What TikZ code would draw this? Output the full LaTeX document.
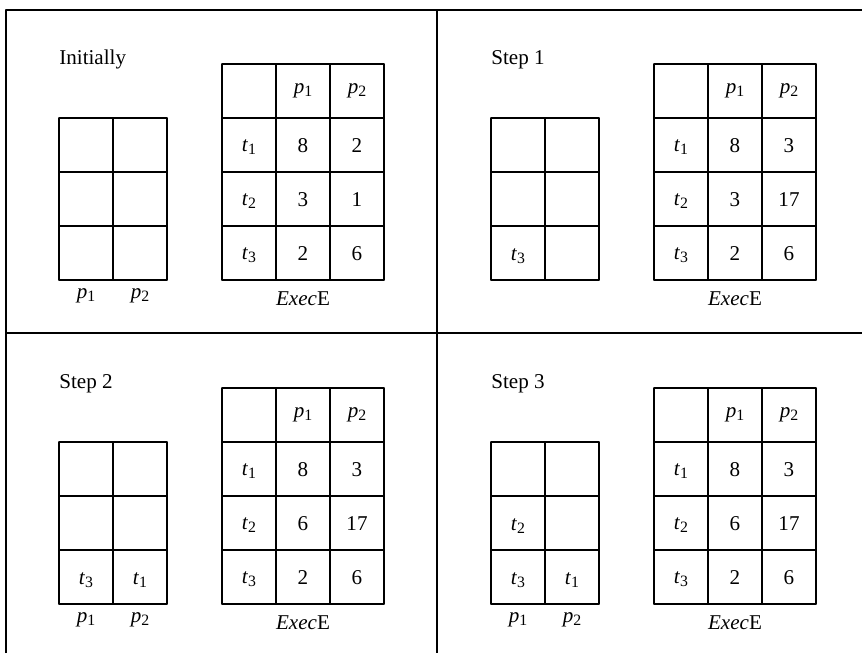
\documentclass[tikz,border=0pt]{standalone}
\usepackage{fontspec}
\setmainfont{Liberation Serif}
\newcommand{\ix}[2]{\textit{#1}\raisebox{-2pt}{\fontsize{9}{10}\selectfont #2}}

\begin{document}
\begin{tikzpicture}[x=0.02cm,y=-0.02cm,line join=round,line cap=round,
  every node/.style={font=\fontsize{12}{14}\selectfont,inner sep=0pt},
  cell/.style={anchor=base}]
\useasboundingbox (0,0) rectangle (862,653);
% frame
\draw[line width=.6pt,line cap=butt] (6,653) -- (6,10) -- (862,10);
\draw[line width=.6pt,line cap=butt] (437,10) -- (437,653);
\draw[line width=.6pt,line cap=butt] (6,333) -- (862,333);
% both grids of one panel
\def\panelgrid{%
  \foreach \i in {0,...,3} \draw[line width=.6pt] (59,118+54*\i) -- (167,118+54*\i);
  \foreach \i in {0,...,2} \draw[line width=.6pt] (59+54*\i,118) -- (59+54*\i,280);
  \foreach \i in {0,...,4} \draw[line width=.6pt] (222,64+54*\i) -- (384,64+54*\i);
  \foreach \i in {0,...,3} \draw[line width=.6pt] (222+54*\i,64) -- (222+54*\i,280);
  \node[cell] (h1) at (303,93) {\ix{p}{1}};
  \node[cell] (h2) at (357,93) {\ix{p}{2}};
  \foreach \r in {1,2,3} \node[cell] (t\r) at (249,64+54*\r+33) {\ix{t}{\r}};
  \node[cell] (exec) at (303,305) {\textit{Exec}E};
}
\def\proclabels{%
  \node[cell] (lp1) at (86,298) {\ix{p}{1}};
  \node[cell] (lp2) at (140,298) {\ix{p}{2}};
}

\begin{scope}[name prefix=a-]
\panelgrid \proclabels
\node[anchor=base west] (title) at (59,64) {Initially};
\foreach \r/\u/\v in {1/8/2,2/3/1,3/2/6}{
  \node[cell] (e\r1) at (303,64+54*\r+34) {\u};
  \node[cell] (e\r2) at (357,64+54*\r+34) {\v};
}
\end{scope}

\begin{scope}[shift={(432,0)},name prefix=b-]
\panelgrid
\node[anchor=base west] (title) at (59,64) {Step 1};
\foreach \r/\u/\v in {1/8/3,2/3/17,3/2/6}{
  \node[cell] (e\r1) at (303,64+54*\r+34) {\u};
  \node[cell] (e\r2) at (357,64+54*\r+34) {\v};
}
\node[cell] (g31) at (86,260) {\ix{t}{3}};
\end{scope}

\begin{scope}[shift={(0,324)},name prefix=c-]
\panelgrid \proclabels
\node[anchor=base west] (title) at (59,64) {Step 2};
\foreach \r/\u/\v in {1/8/3,2/6/17,3/2/6}{
  \node[cell] (e\r1) at (303,64+54*\r+34) {\u};
  \node[cell] (e\r2) at (357,64+54*\r+34) {\v};
}
\node[cell] (g31) at (86,260) {\ix{t}{3}};
\node[cell] (g32) at (140,260) {\ix{t}{1}};
\end{scope}

\begin{scope}[shift={(432,324)},name prefix=d-]
\panelgrid \proclabels
\node[anchor=base west] (title) at (59,64) {Step 3};
\foreach \r/\u/\v in {1/8/3,2/6/17,3/2/6}{
  \node[cell] (e\r1) at (303,64+54*\r+34) {\u};
  \node[cell] (e\r2) at (357,64+54*\r+34) {\v};
}
\node[cell] (g21) at (86,206) {\ix{t}{2}};
\node[cell] (g31) at (86,260) {\ix{t}{3}};
\node[cell] (g32) at (140,260) {\ix{t}{1}};
\end{scope}
\end{tikzpicture}
\end{document}
